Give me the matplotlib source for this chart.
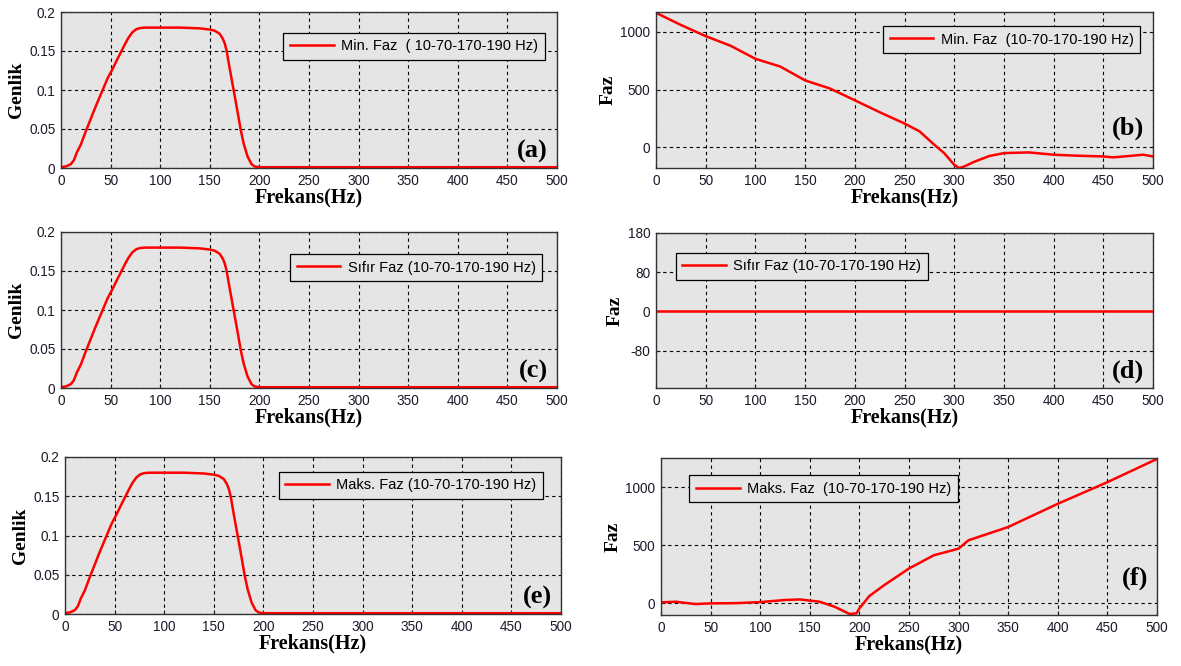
import numpy as np
import matplotlib
matplotlib.use("Agg")
import matplotlib.pyplot as plt

# magnitude response (same for a, c, e)
freq_mag = [0, 5, 10, 13, 16, 20, 25, 30, 35, 42, 47, 52, 57, 61, 65, 68, 72, 76,
            80, 85, 100, 120, 130, 140, 150, 155, 160, 163, 165, 167, 170, 174,
            178, 181, 184, 188, 192, 195, 200, 300, 400, 500]
genlik = [0.001, 0.002, 0.005, 0.010, 0.020, 0.030, 0.047, 0.063, 0.079, 0.100,
          0.115, 0.127, 0.140, 0.150, 0.160, 0.167, 0.174, 0.178, 0.1795, 0.180,
          0.180, 0.180, 0.1795, 0.179, 0.1775, 0.176, 0.172, 0.166, 0.160, 0.150,
          0.128, 0.100, 0.072, 0.050, 0.032, 0.015, 0.005, 0.002, 0.001, 0.001,
          0.001, 0.001]

# minimum phase (b)
freq_min = [0, 25, 50, 75, 100, 125, 150, 175, 200, 225, 250, 265, 280, 290, 300,
            305, 310, 320, 335, 350, 375, 400, 425, 450, 460, 475, 490, 500]
faz_min = [1165, 1060, 963, 880, 767, 700, 580, 510, 408, 305, 207, 140, 23, -50,
           -150, -178, -165, -125, -75, -49, -43, -63, -72, -78, -86, -75, -63, -78]

# zero phase (d)
freq_zero = [0, 500]
faz_zero = [0, 0]

# maximum phase (f)
freq_max = [0, 15, 35, 50, 75, 100, 125, 140, 160, 175, 190, 197, 200, 210, 225,
            250, 275, 300, 310, 350, 375, 400, 450, 475, 500]
faz_max = [9, 14, -6, 0, 2, 11, 29, 34, 14, -29, -91, -86, -43, 63, 157, 300, 414,
           471, 543, 657, 757, 857, 1043, 1143, 1243]

xticks = np.arange(0, 501, 50)
genlik_ticks = [0, 0.05, 0.1, 0.15, 0.2]
genlik_ticklabels = ["0", "0.05", "0.1", "0.15", "0.2"]
faz_ticks = [0, 500, 1000]
zero_ticks = [-90, 0, 90, 180]
zero_ticklabels = ["-80", "0", "80", "180"]

legend_min_a = "Min. Faz  ( 10-70-170-190 Hz)"
legend_min_b = "Min. Faz  (10-70-170-190 Hz)"
legend_zero = "Sıfır Faz (10-70-170-190 Hz)"
legend_max_e = "Maks. Faz (10-70-170-190 Hz)"
legend_max_f = "Maks. Faz  (10-70-170-190 Hz)"

W, H = 1181, 666
BG = "#e5e5e5"
SERIF = "Liberation Serif"
SANS = "Liberation Sans"


def make_axes(fig, left, right, top, bottom):
    # pixel box -> figure fraction
    return fig.add_axes([left / W, 1 - bottom / H, (right - left) / W, (bottom - top) / H])


def style(ax, ylabel, letter, letter_y=0.03):
    ax.set_facecolor(BG)
    ax.set_xlim(0, 500)
    ax.set_xticks(xticks)
    ax.grid(True, color="black", linestyle=(0, (3, 3)), linewidth=0.8)
    ax.set_axisbelow(True)
    ax.tick_params(direction="in", length=3, labelsize=9.8, colors="#1a1a2a",
                   pad=4)
    for lab in ax.get_xticklabels() + ax.get_yticklabels():
        lab.set_family(SANS)
    for s in ax.spines.values():
        s.set_color("#333333")
        s.set_linewidth(1.0)
    ax.set_xlabel("Frekans(Hz)", family=SERIF, fontweight="bold", fontsize=14.5,
                  labelpad=0)
    ax.set_ylabel(ylabel, family=SERIF, fontweight="bold", fontsize=14, labelpad=3)
    ax.text(0.982, letter_y, letter, transform=ax.transAxes, ha="right", va="bottom",
            family=SERIF, fontweight="bold", fontsize=19)


def add_legend(ax, label, loc, anchor):
    leg = ax.legend([label], loc=loc, bbox_to_anchor=anchor, borderaxespad=0,
                    fancybox=False, framealpha=1, facecolor=BG, edgecolor="black",
                    prop={"family": SANS, "size": 10.5}, handlelength=3.0,
                    borderpad=0.45, handletextpad=0.5)
    leg.get_frame().set_linewidth(0.9)


fig = plt.figure(figsize=(W / 100, H / 100), dpi=100)
red = "#ff0000"
lw = 1.8

# (a)
ax = make_axes(fig, 61, 557, 12, 168)
ax.plot(freq_mag, genlik, color=red, lw=lw)
ax.set_ylim(0, 0.2)
ax.set_yticks(genlik_ticks)
ax.set_yticklabels(genlik_ticklabels)
style(ax, "Genlik", "(a)")
add_legend(ax, legend_min_a, "upper right", (0.975, 0.866))

# (b)
ax = make_axes(fig, 656, 1153, 12, 168)
ax.plot(freq_min, faz_min, color=red, lw=lw)
ax.set_ylim(-178, 1172)
ax.set_yticks(faz_ticks)
style(ax, "Faz", "(b)", letter_y=0.18)
add_legend(ax, legend_min_b, "upper right", (0.974, 0.91))

# (c)
ax = make_axes(fig, 61, 557, 232, 388)
ax.plot(freq_mag, genlik, color=red, lw=lw)
ax.set_ylim(0, 0.2)
ax.set_yticks(genlik_ticks)
ax.set_yticklabels(genlik_ticklabels)
style(ax, "Genlik", "(c)")
add_legend(ax, legend_zero, "upper right", (0.97, 0.859))

# (d)
ax = make_axes(fig, 656, 1153, 233, 388)
ax.plot(freq_zero, faz_zero, color=red, lw=lw)
ax.set_ylim(-176, 180)
ax.set_yticks(zero_ticks)
ax.set_yticklabels(zero_ticklabels)
style(ax, "Faz", "(d)")
add_legend(ax, legend_zero, "upper left", (0.04, 0.873))

# (e)
ax = make_axes(fig, 65, 561, 457, 614)
ax.plot(freq_mag, genlik, color=red, lw=lw)
ax.set_ylim(0, 0.2)
ax.set_yticks(genlik_ticks)
ax.set_yticklabels(genlik_ticklabels)
style(ax, "Genlik", "(e)")
add_legend(ax, legend_max_e, "upper right", (0.964, 0.906))

# (f)
ax = make_axes(fig, 661, 1157, 458, 615)
ax.plot(freq_max, faz_max, color=red, lw=lw)
ax.set_ylim(-100, 1251)
ax.set_yticks(faz_ticks)
style(ax, "Faz", "(f)", letter_y=0.16)
add_legend(ax, legend_max_f, "upper left", (0.057, 0.89))

fig.savefig("out.png", dpi=100)
